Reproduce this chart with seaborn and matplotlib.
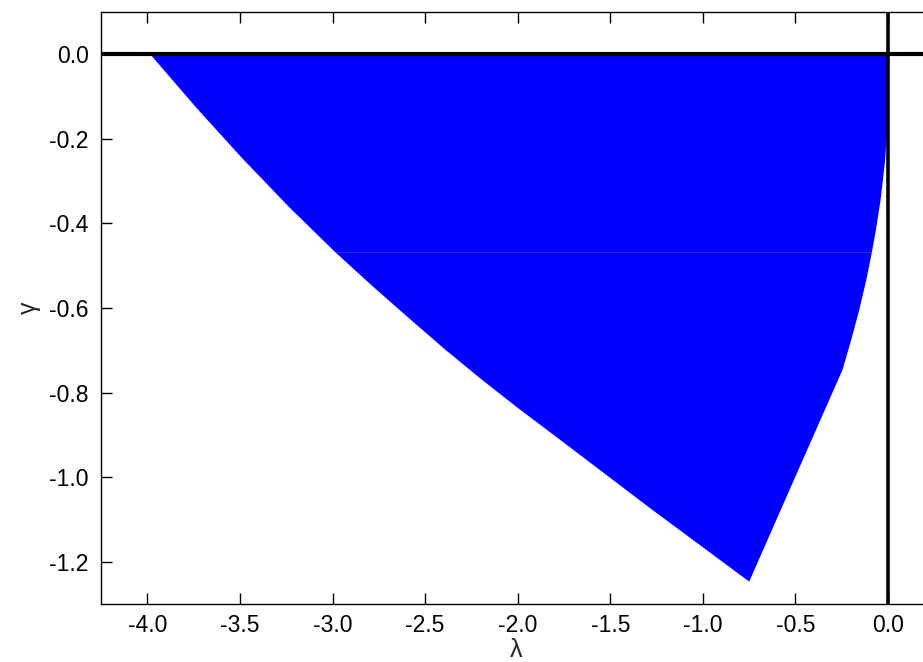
import matplotlib
matplotlib.use("Agg")
import matplotlib.pyplot as plt
import seaborn as sns
import numpy as np

# Left boundary of the region (lambda, gamma), from top to bottom
left_lam = [-3.984, -3.734, -3.484, -3.235, -2.985, -2.79, -2.59, -2.395, -2.195, -2.0, -1.80, -1.28, -0.75]
left_gam = [0.0, -0.127, -0.2475, -0.361, -0.468, -0.546, -0.623, -0.697, -0.769, -0.836, -0.902, -1.075, -1.247]

# Right boundary of the region (lambda, gamma), from bottom to top
right_lam = [-0.75, -0.53, -0.246, -0.199, -0.156, -0.118, -0.0875, -0.066, -0.041,
             -0.0164, -0.0039, -0.0005, 0.0]
right_gam = [-1.247, -1.028, -0.746, -0.675, -0.605, -0.534, -0.468, -0.416, -0.346,
             -0.252, -0.174, -0.111, 0.0]

seam_gam = -0.468

xticks = [-4.0, -3.5, -3.0, -2.5, -2.0, -1.5, -1.0, -0.5, 0.0]
yticks = [0.0, -0.2, -0.4, -0.6, -0.8, -1.0, -1.2]

sns.set_style("ticks")
plt.rcParams['font.family'] = ['Liberation Sans', 'DejaVu Sans']

fig = plt.figure(figsize=(9.23, 6.62), dpi=100)
ax = fig.add_axes([101/923, 58/662, 830/923, 592/662])

lx = np.array(left_lam); ly = np.array(left_gam)
rx = np.array(right_lam); ry = np.array(right_gam)

def xat(xs, ys, y):
    order = np.argsort(ys)
    return np.interp(y, ys[order], xs[order])

lseam = xat(lx, ly, seam_gam)
rseam = xat(rx, ry, seam_gam)

# upper part of the region
up_l = ly > seam_gam
up_r = ry > seam_gam
ux = list(lx[up_l]) + [lseam, rseam] + list(rx[up_r])
uy = list(ly[up_l]) + [seam_gam, seam_gam] + list(ry[up_r])
ax.fill(ux, uy, color="#0000ff", lw=0, antialiased=True)

# lower part of the region
lo_l = ly < seam_gam
lo_r = ry < seam_gam
dx = [lseam] + list(lx[lo_l]) + list(rx[lo_r]) + [rseam]
dy = [seam_gam] + list(ly[lo_l]) + list(ry[lo_r]) + [seam_gam]
ax.fill(dx, dy, color="#0000ff", lw=0, antialiased=True)

ax.axhline(0, color="black", lw=3.0, zorder=3)
ax.axvline(0, color="black", lw=2.6, zorder=3)

xmax = -4.25 + 830 / 185.2
ax.set_xlim(-4.25, xmax)
ax.set_ylim(-1.3, 0.1)
ax.set_xticks(xticks)
ax.set_yticks(yticks)
ax.set_xticklabels([f"{t:.1f}" for t in xticks])
ax.set_yticklabels([f"{t:.1f}" for t in yticks])
ax.tick_params(direction="in", length=8, width=1, top=True, right=False,
               labelsize=16.5, colors="black")
ax.tick_params(axis="x", pad=7)
ax.tick_params(axis="y", pad=9)
ax.spines["right"].set_visible(False)
for s in ax.spines.values():
    s.set_linewidth(1.0)
    s.set_color("black")

ax.set_xlabel("λ", fontsize=18, labelpad=1)
ax.set_ylabel("γ", fontsize=18, labelpad=6)

fig.savefig("out.png", dpi=100)
